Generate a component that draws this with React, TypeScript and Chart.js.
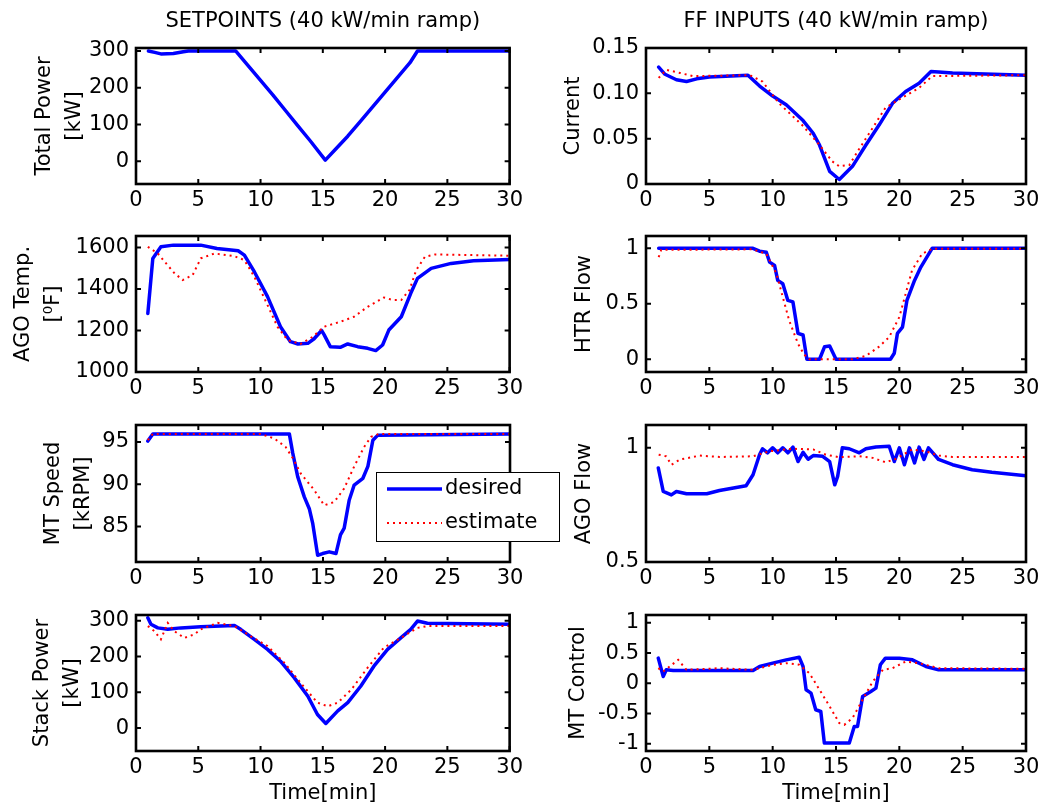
import React, { useEffect, useRef } from "react";
import { Chart, registerables } from "chart.js";

Chart.register(...registerables);

// ---------------- DATA ----------------
const xTicks = [0, 5, 10, 15, 20, 25, 30];

// Total Power [kW]
const tpTimeDesired = [1, 1.5, 2, 3, 3.8, 4.2, 8.0, 9, 10, 11, 12, 13, 14, 15.2, 16, 17, 18, 19, 20, 21, 22, 22.6, 30];
const tpDesired = [300, 296, 292, 293, 298, 300, 300, 260, 220, 180, 138, 96, 55, 3, 32, 68, 108, 148, 188, 228, 268, 300, 300];
const tpTicks = [0, 100, 200, 300];

// Current
const curTimeDesired = [1, 1.5, 2.4, 3.2, 4, 5, 8.05, 8.97, 10, 11.07, 12.4, 13.2, 13.7, 14.5, 15.26, 16.3, 17.36, 18.4, 19.46, 20.5, 21.56, 22.5, 23.1, 24.2, 30];
const curDesired = [0.129, 0.121, 0.115, 0.113, 0.116, 0.118, 0.12, 0.108, 0.097, 0.0875, 0.07, 0.056, 0.043, 0.014, 0.005, 0.0195, 0.043, 0.065, 0.089, 0.102, 0.111, 0.124, 0.1235, 0.1224, 0.12];
const curTimeEstimate = [1, 1.6, 2.7, 3.7, 8.2, 9.2, 10.5, 12.4, 13.7, 14.7, 15.26, 16.05, 16.8, 17.9, 18.9, 20.2, 21.56, 22.6, 30];
const curEstimate = [0.117, 0.126, 0.1224, 0.119, 0.12, 0.113, 0.089, 0.064, 0.043, 0.025, 0.0195, 0.021, 0.038, 0.062, 0.084, 0.095, 0.106, 0.119, 0.12];
const curTicks = [0, 0.05, 0.1, 0.15];
const curTickLabels = ["0", "0.05", "0.10", "0.15"];

// AGO Temp [0F]
const agoTTimeDesired = [0.95, 1.35, 2.0, 3.0, 5.2, 6.5, 8.2, 8.7, 9.5, 10.56, 11.6, 12.4, 13.0, 13.8, 14.3, 14.9, 15.1, 15.6, 16.4, 17.0, 17.8, 18.6, 19.25, 19.8, 20.3, 21.3, 22.06, 22.6, 23.7, 25.3, 27.1, 30];
const agoTempDesired = [1282, 1547, 1603, 1611, 1611, 1595, 1584, 1563, 1483, 1363, 1218, 1146, 1135, 1138, 1160, 1200, 1180, 1122, 1119, 1135, 1122, 1114, 1103, 1130, 1202, 1266, 1379, 1451, 1499, 1523, 1536, 1542];
const agoTTimeEstimate = [0.95, 1.75, 2.3, 3.1, 3.75, 4.55, 5.2, 6.3, 7.9, 8.7, 9.5, 10.56, 11.36, 12.17, 13.2, 14.2, 15.1, 16.4, 17.5, 18.6, 19.9, 20.6, 21.3, 21.96, 22.5, 23.2, 24, 30];
const agoTempEstimate = [1603, 1571, 1531, 1475, 1443, 1467, 1547, 1571, 1558, 1539, 1459, 1322, 1218, 1154, 1135, 1170, 1218, 1242, 1266, 1314, 1359, 1347, 1347, 1395, 1491, 1555, 1566, 1560];
const agoTempTicks = [1000, 1200, 1400, 1600];

// HTR Flow
const htrTimeDesired = [1, 8.4, 8.97, 9.5, 9.76, 10.15, 10.4, 10.8, 11.2, 11.6, 12.0, 12.4, 12.7, 13.7, 14.1, 14.5, 15.0, 19.3, 19.6, 19.85, 20.25, 20.6, 21.2, 21.7, 22.6, 30];
const htrDesired = [1, 1, 0.973, 0.964, 0.875, 0.845, 0.71, 0.68, 0.53, 0.516, 0.233, 0.218, 0, 0, 0.113, 0.12, 0, 0, 0.054, 0.233, 0.29, 0.53, 0.71, 0.83, 1, 1];
const htrTimeEstimate = [1, 1.2, 8.4, 9.5, 10.3, 10.8, 11.3, 12.0, 12.5, 12.9, 16.3, 17.36, 18.4, 19.2, 20.0, 20.5, 21.0, 21.8, 22.6, 30];
const htrEstimate = [0.92, 0.985, 0.99, 0.95, 0.77, 0.56, 0.35, 0.14, 0.04, 0, 0, 0.03, 0.113, 0.2, 0.38, 0.59, 0.8, 0.95, 0.995, 0.995];
const htrTicks = [0, 0.5, 1];

// MT Speed [kRPM]
const mtsTimeDesired = [0.95, 1.35, 12.3, 12.57, 12.97, 13.5, 13.9, 14.17, 14.57, 14.97, 15.5, 16.04, 16.4, 16.7, 17.1, 17.5, 18.2, 18.6, 19.0, 19.4, 30];
const mtSpeedDesired = [95.1, 95.95, 95.95, 93.7, 90.9, 88.5, 87.1, 85.4, 81.6, 81.8, 82.0, 81.8, 84.0, 84.8, 88.1, 89.9, 90.7, 92.1, 95.2, 95.8, 95.95];
const mtsTimeEstimate = [0.95, 1.35, 10.0, 11.1, 12.0, 12.57, 13.2, 14.3, 15.1, 15.9, 16.7, 17.5, 18.3, 18.85, 19.5, 30];
const mtSpeedEstimate = [95.2, 95.95, 95.95, 95.4, 94.4, 93.1, 91.3, 89.3, 87.5, 87.9, 89.5, 92.1, 94.4, 95.6, 95.95, 95.95];
const mtSpeedTicks = [85, 90, 95];

// AGO Flow
const agfTimeDesired = [0.97, 1.36, 2.0, 2.4, 3.2, 4.8, 5.8, 7.9, 8.45, 8.97, 9.2, 9.6, 10.0, 10.4, 10.8, 11.2, 11.6, 12.0, 12.4, 12.8, 13.2, 13.95, 14.5, 14.9, 15.13, 15.5, 16.05, 16.84, 17.36, 18.15, 19.2, 19.6, 20.0, 20.4, 20.8, 21.2, 21.56, 21.95, 22.3, 23.1, 24.2, 25.75, 27.3, 30];
const agoFlowDesired = [0.912, 0.809, 0.794, 0.809, 0.799, 0.799, 0.813, 0.834, 0.882, 0.971, 0.996, 0.978, 1.0, 0.978, 1.0, 0.978, 1.003, 0.94, 0.98, 0.95, 0.966, 0.963, 0.94, 0.838, 0.875, 1.0, 0.996, 0.978, 0.996, 1.004, 1.007, 0.94, 1.0, 0.926, 1.0, 0.934, 1.003, 0.949, 1.0, 0.949, 0.926, 0.904, 0.893, 0.878];
const agfTimeEstimate = [1, 1.6, 2.0, 2.7, 4.25, 5.8, 8.45, 9.76, 11.6, 13.2, 14.2, 15.26, 16.84, 17.9, 18.9, 19.7, 21.0, 22.1, 23.1, 24.2, 30];
const agoFlowEstimate = [0.97, 0.963, 0.926, 0.949, 0.966, 0.96, 0.963, 0.985, 0.996, 0.993, 0.97, 0.959, 0.963, 0.956, 0.937, 0.951, 0.993, 0.985, 0.966, 0.96, 0.96];
const agoFlowTicks = [0.5, 1];

// Stack Power [kW]
const spTimeDesired = [0.95, 1.2, 1.75, 2.55, 3.6, 5.2, 7.9, 8.4, 9.5, 10.56, 11.6, 12.7, 13.8, 14.57, 15.24, 16.2, 17.0, 18.04, 19.1, 20.2, 21.26, 22.06, 22.6, 23.4, 30];
const stackPowerDesired = [308, 290, 280, 276, 280, 283, 287, 276, 248, 220, 187, 141, 89, 38, 13, 48, 71, 117, 173, 220, 252, 276, 299, 293, 290];
const spTimeEstimate = [0.95, 1.47, 2.0, 2.55, 3.07, 3.88, 4.7, 5.2, 6.55, 7.9, 9.2, 10.56, 11.9, 13.2, 14.57, 15.4, 16.2, 17.3, 18.6, 19.9, 21.26, 22.6, 23.4, 30];
const stackPowerEstimate = [285, 271, 248, 294, 271, 252, 262, 276, 294, 285, 257, 229, 183, 127, 71, 61, 71, 108, 169, 225, 252, 280, 285, 285];
const spTicks = [0, 100, 200, 300];

// MT Control
const mtcTimeDesired = [0.97, 1.36, 1.6, 2.15, 8.45, 8.97, 10.0, 11.07, 12.1, 12.4, 12.64, 13.03, 13.4, 13.8, 14.08, 16.05, 16.44, 16.7, 17.1, 17.75, 18.15, 18.5, 18.9, 20.0, 21.03, 22.1, 23.1, 30];
const mtControlDesired = [0.416, 0.113, 0.223, 0.212, 0.21, 0.278, 0.333, 0.388, 0.43, 0.278, -0.107, -0.163, -0.438, -0.466, -0.989, -0.989, -0.713, -0.713, -0.218, -0.135, -0.08, 0.306, 0.416, 0.416, 0.388, 0.278, 0.223, 0.223];
const mtcTimeEstimate = [0.97, 1.36, 2.54, 3.2, 5.8, 8.45, 10.0, 11.07, 12.1, 12.9, 13.7, 14.5, 15.26, 15.66, 16.3, 17.1, 17.9, 18.7, 19.46, 20.5, 21.56, 22.6, 23.1, 30];
const mtControlEstimate = [0.25, 0.195, 0.388, 0.223, 0.25, 0.223, 0.306, 0.333, 0.306, 0.168, -0.107, -0.383, -0.658, -0.686, -0.576, -0.273, 0.03, 0.223, 0.25, 0.36, 0.333, 0.278, 0.25, 0.24];
const mtControlTicks = [-1, -0.5, 0, 0.5, 1];

const seriesNames = ["desired", "estimate"];

// ---------------- STYLE / LAYOUT ----------------
const FONT = "'DejaVu Sans', sans-serif";
const FS = 21;
const BLUE = "#0000ff";
const RED = "#ff0000";

type Series = { t: number[]; v: number[] };
type Panel = {
  cx: number; cy: number; cw: number; ch: number;
  l: number; t: number; r: number; b: number;
  yMin: number; yMax: number; yTicks: number[]; yLabels?: string[];
  yTitle: string | string[]; yTitlePad: number;
  title?: string; xTitle?: string;
  desired: Series; estimate?: Series;
  legend?: boolean; z?: number;
};

const LX0 = 136, LX1 = 510, RX0 = 646, RX1 = 1026;
const ROWS = [[48, 184], [236, 372], [425, 562], [615, 751]];
const CANV = [[0, 215], [215, 190], [405, 190], [595, 214]];

const panels: Panel[] = [
  { cx: 0, cy: CANV[0][0], cw: 527, ch: CANV[0][1], l: LX0, r: LX1, t: ROWS[0][0], b: ROWS[0][1],
    yMin: -62, yMax: 308, yTicks: tpTicks, yTitle: ["Total Power", "[kW]"], yTitlePad: 30,
    title: "SETPOINTS (40 kW/min ramp)", desired: { t: tpTimeDesired, v: tpDesired } },
  { cx: 527, cy: CANV[0][0], cw: 527, ch: CANV[0][1], l: RX0, r: RX1, t: ROWS[0][0], b: ROWS[0][1],
    yMin: 0, yMax: 0.15, yTicks: curTicks, yLabels: curTickLabels, yTitle: "Current", yTitlePad: 32,
    title: "FF INPUTS (40 kW/min ramp)", desired: { t: curTimeDesired, v: curDesired }, estimate: { t: curTimeEstimate, v: curEstimate } },
  { cx: 0, cy: CANV[1][0], cw: 527, ch: CANV[1][1], l: LX0, r: LX1, t: ROWS[1][0], b: ROWS[1][1],
    yMin: 1000, yMax: 1655, yTicks: agoTempTicks, yTitle: ["AGO Temp.", "[\u2070F]"], yTitlePad: 9,
    desired: { t: agoTTimeDesired, v: agoTempDesired }, estimate: { t: agoTTimeEstimate, v: agoTempEstimate } },
  { cx: 527, cy: CANV[1][0], cw: 527, ch: CANV[1][1], l: RX0, r: RX1, t: ROWS[1][0], b: ROWS[1][1],
    yMin: -0.115, yMax: 1.11, yTicks: htrTicks, yTitle: "HTR Flow", yTitlePad: 43,
    desired: { t: htrTimeDesired, v: htrDesired }, estimate: { t: htrTimeEstimate, v: htrEstimate } },
  { cx: 0, cy: CANV[2][0], cw: 575, ch: CANV[2][1], l: LX0, r: LX1, t: ROWS[2][0], b: ROWS[2][1],
    yMin: 80.8, yMax: 97, yTicks: mtSpeedTicks, yTitle: ["MT Speed", "[kRPM]"], yTitlePad: 39,
    desired: { t: mtsTimeDesired, v: mtSpeedDesired }, estimate: { t: mtsTimeEstimate, v: mtSpeedEstimate }, legend: true, z: 2 },
  { cx: 527, cy: CANV[2][0], cw: 527, ch: CANV[2][1], l: RX0, r: RX1, t: ROWS[2][0], b: ROWS[2][1],
    yMin: 0.5, yMax: 1.1, yTicks: agoFlowTicks, yTitle: "AGO Flow", yTitlePad: 43,
    desired: { t: agfTimeDesired, v: agoFlowDesired }, estimate: { t: agfTimeEstimate, v: agoFlowEstimate }, z: 1 },
  { cx: 0, cy: CANV[3][0], cw: 527, ch: CANV[3][1], l: LX0, r: LX1, t: ROWS[3][0], b: ROWS[3][1],
    yMin: -64, yMax: 316, yTicks: spTicks, yTitle: ["Stack Power", "[kW]"], yTitlePad: 28, xTitle: "Time[min]",
    desired: { t: spTimeDesired, v: stackPowerDesired }, estimate: { t: spTimeEstimate, v: stackPowerEstimate } },
  { cx: 527, cy: CANV[3][0], cw: 527, ch: CANV[3][1], l: RX0, r: RX1, t: ROWS[3][0], b: ROWS[3][1],
    yMin: -1.12, yMax: 1.13, yTicks: mtControlTicks, yTitle: "MT Control", yTitlePad: 37, xTitle: "Time[min]",
    desired: { t: mtcTimeDesired, v: mtControlDesired }, estimate: { t: mtcTimeEstimate, v: mtControlEstimate } },
];

const boxPlugin = {
  id: "matlabBox",
  afterDatasetsDraw(chart: any) {
    const { ctx, chartArea: a, scales } = chart;
    const xs = scales.x, ys = scales.y;
    const L = 5;
    ctx.save();
    ctx.strokeStyle = "#000";
    ctx.lineWidth = 2;
    ctx.beginPath();
    xs.ticks.forEach((tk: any) => {
      const p = xs.getPixelForValue(tk.value);
      ctx.moveTo(p, a.bottom); ctx.lineTo(p, a.bottom - L);
      ctx.moveTo(p, a.top); ctx.lineTo(p, a.top + L);
    });
    ys.ticks.forEach((tk: any) => {
      const p = ys.getPixelForValue(tk.value);
      ctx.moveTo(a.left, p); ctx.lineTo(a.left + L, p);
      ctx.moveTo(a.right, p); ctx.lineTo(a.right - L, p);
    });
    ctx.stroke();
    ctx.lineWidth = 2.6;
    ctx.strokeRect(a.left, a.top, a.right - a.left, a.bottom - a.top);
    ctx.restore();
  },
};

function makeLegendPlugin(p: Panel) {
  return {
    id: "boxLegend",
    afterDraw(chart: any) {
      const { ctx } = chart;
      const x = 376 - p.cx, y = 472 - p.cy, w = 183, h = 69;
      ctx.save();
      ctx.fillStyle = "#fff";
      ctx.fillRect(x, y, w, h);
      ctx.strokeStyle = "#000";
      ctx.lineWidth = 1;
      ctx.strokeRect(x + 0.5, y + 0.5, w, h);
      const dsets = chart.data.datasets;
      const rowsY = [y + 17, y + 51];
      dsets.forEach((ds: any, i: number) => {
        const yy = rowsY[i];
        ctx.beginPath();
        ctx.strokeStyle = ds.borderColor;
        ctx.lineWidth = ds.borderWidth;
        ctx.setLineDash(ds.borderDash || []);
        ctx.moveTo(x + 11, yy);
        ctx.lineTo(x + 66, yy);
        ctx.stroke();
        ctx.setLineDash([]);
        ctx.fillStyle = "#000";
        ctx.font = `${FS}px ${FONT}`;
        ctx.textBaseline = "middle";
        ctx.textAlign = "left";
        ctx.fillText(ds.label, x + 69, yy);
      });
      ctx.restore();
    },
  };
}

function buildConfig(p: Panel): any {
  const font = { family: FONT, size: FS, weight: "normal" as const };
  const datasets: any[] = [
    {
      label: seriesNames[0],
      data: p.desired.t.map((t, i) => ({ x: t, y: p.desired.v[i] })),
      borderColor: BLUE, borderWidth: 3.5, pointRadius: 0, tension: 0, order: 1,
      borderJoinStyle: "round", borderCapStyle: "round",
    },
  ];
  if (p.estimate) {
    datasets.push({
      label: seriesNames[1],
      data: p.estimate.t.map((t, i) => ({ x: t, y: p.estimate!.v[i] })),
      borderColor: RED, borderWidth: 2, borderDash: [2, 4], pointRadius: 0, tension: 0, order: 0,
    });
  }
  const xAxisH = p.cy + p.ch - p.b;
  const yAxisW = p.l - p.cx;
  const plugins: any[] = [boxPlugin];
  if (p.legend) plugins.push(makeLegendPlugin(p));
  return {
    type: "line",
    data: { datasets },
    plugins,
    options: {
      animation: false,
      responsive: false,
      maintainAspectRatio: false,
      events: [],
      layout: { padding: { left: 0, right: p.cx + p.cw - p.r, top: p.title ? 0 : p.t - p.cy, bottom: 0 } },
      plugins: {
        legend: { display: false },
        tooltip: { enabled: false },
        title: p.title
          ? { display: true, text: p.title, fullSize: false, color: "#000",
              font: { ...font, lineHeight: 1.2 }, padding: { top: 9.4, bottom: p.t - p.cy - 9.4 - FS * 1.2 } }
          : { display: false },
      },
      scales: {
        x: {
          type: "linear", min: 0, max: 30,
          afterBuildTicks: (s: any) => { s.ticks = xTicks.map((v) => ({ value: v })); },
          afterFit: (s: any) => { s.height = xAxisH; },
          grid: { display: false, drawTicks: false },
          border: { display: false },
          ticks: { autoSkip: false, maxRotation: 0, minRotation: 0, padding: 4, color: "#000", font: { ...font, lineHeight: 1.2 } },
          title: p.xTitle
            ? { display: true, text: p.xTitle, color: "#000", font: { ...font, lineHeight: 1.2 }, padding: { top: 0, bottom: 2.4 } }
            : { display: false },
        },
        y: {
          type: "linear", min: p.yMin, max: p.yMax,
          afterBuildTicks: (s: any) => { s.ticks = p.yTicks.map((v) => ({ value: v })); },
          afterFit: (s: any) => { s.width = yAxisW; },
          grid: { display: false, drawTicks: false },
          border: { display: false },
          ticks: {
            autoSkip: false, padding: 7, color: "#000", font: { ...font, lineHeight: 1.2 },
            callback: (value: number) => {
              const i = p.yTicks.indexOf(value);
              if (p.yLabels && i >= 0) return p.yLabels[i];
              return String(value);
            },
          },
          title: {
            display: true, text: p.yTitle, color: "#000",
            font: { ...font, lineHeight: 1.43 }, padding: { top: p.yTitlePad, bottom: 0 },
          },
        },
      },
    },
  };
}

export default function App() {
  const refs = useRef<(HTMLCanvasElement | null)[]>([]);
  useEffect(() => {
    const charts = panels.map((p, i) => new Chart(refs.current[i] as HTMLCanvasElement, buildConfig(p)));
    return () => charts.forEach((c) => c.destroy());
  }, []);
  return (
    <div style={{ position: "absolute", left: 0, top: 0, width: 1054, height: 809, background: "#fff", overflow: "hidden" }}>
      {panels.map((p, i) => (
        <canvas
          key={i}
          ref={(el) => { refs.current[i] = el; }}
          width={p.cw}
          height={p.ch}
          style={{ position: "absolute", left: p.cx, top: p.cy, width: p.cw, height: p.ch, zIndex: p.z ?? 0 }}
        />
      ))}
    </div>
  );
}
